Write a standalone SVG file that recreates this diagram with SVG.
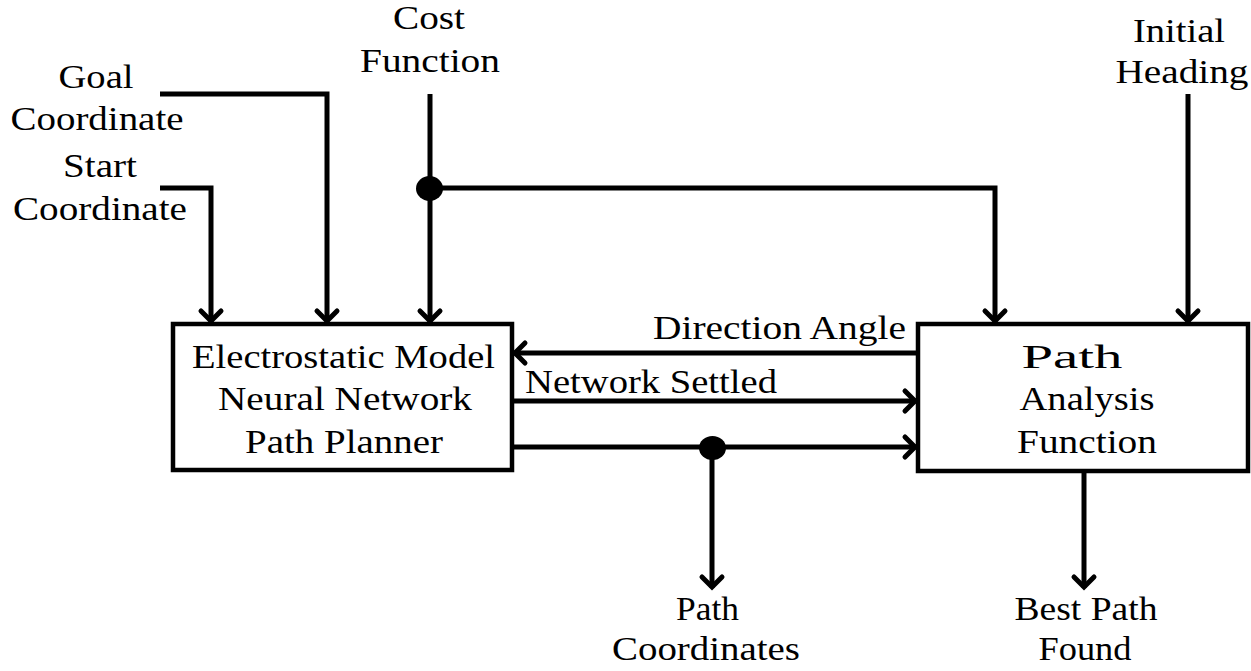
<svg xmlns="http://www.w3.org/2000/svg" width="1251" height="671" viewBox="0 0 1251 671">
<style>
.box{fill:#fff;stroke:#000;stroke-width:4.5}
.ln{fill:none;stroke:#000;stroke-width:5;stroke-linejoin:miter}
.t{font-family:'Liberation Serif',Tinos,'Times New Roman',Times,serif;font-size:34px;fill:#000;text-anchor:middle}
</style>
<defs>
<marker id="ah" markerUnits="userSpaceOnUse" markerWidth="30" markerHeight="30" viewBox="-16 -15 20 30" refX="0" refY="0" orient="auto">
<path d="M-11,-10 L-1,0 L-11,10" fill="none" stroke="#000" stroke-width="5" stroke-linecap="round"/>
</marker>
</defs>
<rect width="1251" height="671" fill="#fff"/>
<g id="connectors">
<path class="ln" d="M160,188 H211 V322" marker-end="url(#ah)"/>
<path class="ln" d="M160,94 H327 V322" marker-end="url(#ah)"/>
<path class="ln" d="M430,94 V322" marker-end="url(#ah)"/>
<path class="ln" d="M430,188 H995 V322" marker-end="url(#ah)"/>
<path class="ln" d="M1188,94 V322" marker-end="url(#ah)"/>
<path class="ln" d="M918,353 H514" marker-end="url(#ah)"/>
<path class="ln" d="M512,401 H916" marker-end="url(#ah)"/>
<path class="ln" d="M512,447 H916" marker-end="url(#ah)"/>
<path class="ln" d="M712,447 V588" marker-end="url(#ah)"/>
<path class="ln" d="M1084,471 V588" marker-end="url(#ah)"/>
<ellipse cx="429.5" cy="188.5" rx="13.5" ry="12.5" fill="#000"/>
<ellipse cx="712.5" cy="448" rx="13.5" ry="12" fill="#000"/>
<text class="t" x="779.5" y="339" textLength="253" lengthAdjust="spacingAndGlyphs">Direction Angle</text>
<text class="t" x="651" y="393" textLength="252" lengthAdjust="spacingAndGlyphs">Network Settled</text>
</g>
<g id="planner">
<rect class="box" x="173" y="324" width="339" height="146"/>
<text class="t" x="343.5" y="368" textLength="303" lengthAdjust="spacingAndGlyphs">Electrostatic Model</text>
<text class="t" x="345" y="410" textLength="254" lengthAdjust="spacingAndGlyphs">Neural Network</text>
<text class="t" x="344" y="453" textLength="198" lengthAdjust="spacingAndGlyphs">Path Planner</text>
</g>
<g id="analysis">
<rect class="box" x="918" y="324" width="330" height="147"/>
<text class="t" x="1072" y="368" textLength="101" lengthAdjust="spacingAndGlyphs">Path</text>
<text class="t" x="1087" y="410" textLength="135" lengthAdjust="spacingAndGlyphs">Analysis</text>
<text class="t" x="1087" y="453" textLength="140" lengthAdjust="spacingAndGlyphs">Function</text>
</g>
<g id="cost">
<text class="t" x="429" y="29" textLength="72" lengthAdjust="spacingAndGlyphs">Cost</text>
<text class="t" x="430" y="72" textLength="140" lengthAdjust="spacingAndGlyphs">Function</text>
</g>
<g id="goal">
<text class="t" x="96" y="88" textLength="75" lengthAdjust="spacingAndGlyphs">Goal</text>
<text class="t" x="97" y="130" textLength="173" lengthAdjust="spacingAndGlyphs">Coordinate</text>
</g>
<g id="start">
<text class="t" x="100" y="177" textLength="74" lengthAdjust="spacingAndGlyphs">Start</text>
<text class="t" x="100" y="220" textLength="174" lengthAdjust="spacingAndGlyphs">Coordinate</text>
</g>
<g id="heading">
<text class="t" x="1179" y="42" textLength="92" lengthAdjust="spacingAndGlyphs">Initial</text>
<text class="t" x="1182" y="83" textLength="133" lengthAdjust="spacingAndGlyphs">Heading</text>
</g>
<g id="pathcoords">
<text class="t" x="707.5" y="620" textLength="63" lengthAdjust="spacingAndGlyphs">Path</text>
<text class="t" x="706" y="660" textLength="188" lengthAdjust="spacingAndGlyphs">Coordinates</text>
</g>
<g id="bestpath">
<text class="t" x="1086" y="620" textLength="143" lengthAdjust="spacingAndGlyphs">Best Path</text>
<text class="t" x="1085" y="660" textLength="93" lengthAdjust="spacingAndGlyphs">Found</text>
</g>
</svg>
